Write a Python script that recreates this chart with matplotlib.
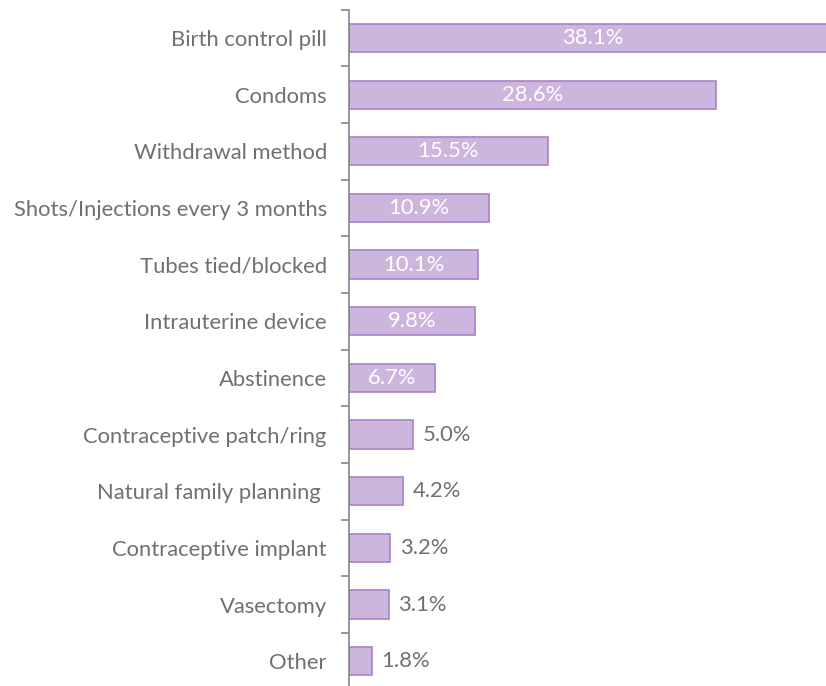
import matplotlib
matplotlib.use("Agg")
import matplotlib.pyplot as plt
import numpy as np

methods = ["Birth control pill", "Condoms", "Withdrawal method",
           "Shots/Injections every 3 months", "Tubes tied/blocked",
           "Intrauterine device", "Abstinence", "Contraceptive patch/ring",
           "Natural family planning ", "Contraceptive implant", "Vasectomy", "Other"]
shares = [38.1, 28.6, 15.5, 10.9, 10.1, 9.8, 6.7, 5.0, 4.2, 3.2, 3.1, 1.8]

plt.rcParams['font.family'] = ['Lato', 'DejaVu Sans']
grey = "#707070"
axis_grey = "#868686"

fig = plt.figure(figsize=(8.26, 6.86), dpi=100)
ax = fig.add_axes([0.4225, -0.0053, 0.5775, 0.9912])

y = np.arange(len(methods))
ax.barh(y, shares, height=0.5, color="#cdb6dd", edgecolor="#a880c8", linewidth=1.2)

for yi, v in zip(y, shares):
    txt = f"{v:.1f}%"
    if v > 6:
        ax.text(v / 2, yi, txt, ha="center", va="center", color="white", fontsize=15.8)
    else:
        ax.text(v + 0.75, yi, txt, ha="left", va="center", color=grey, fontsize=15.8)

ax.set_ylim(len(methods) - 0.5, -0.5)
ax.set_xlim(0, 37.2)
ax.set_yticks(y)
ax.set_yticklabels(methods, color=grey, fontsize=15.8)
ax.tick_params(axis="y", which="major", length=0, pad=16)
ax.set_yticks(np.arange(len(methods) + 1) - 0.5, minor=True)
ax.tick_params(axis="y", which="minor", length=6, color=axis_grey, width=1.2)
ax.set_xticks([])
for side in ["top", "right", "bottom"]:
    ax.spines[side].set_visible(False)
ax.spines["left"].set_color(axis_grey)
ax.spines["left"].set_linewidth(1.2)

fig.savefig("out.png", dpi=100)
